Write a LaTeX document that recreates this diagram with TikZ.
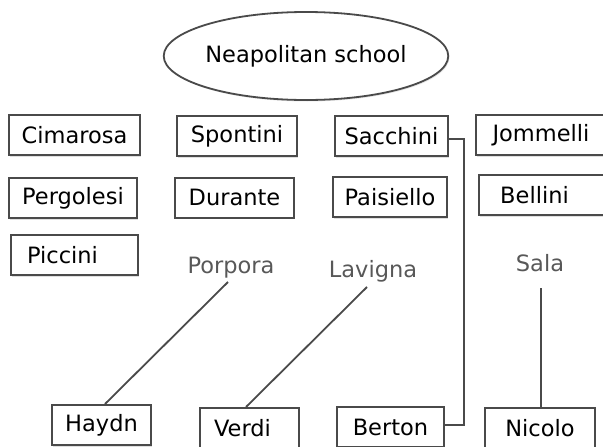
\documentclass[tikz,border=0pt]{standalone}
\usepackage{fontspec}
\setmainfont{DejaVu Sans}
\usetikzlibrary{shapes.geometric,shadows,calc}
\definecolor{boxline}{HTML}{4A4A4A}
\definecolor{graytext}{HTML}{585858}
\begin{document}
\begin{tikzpicture}[x=1pt,y=-1pt,
  every node/.style={font=\fontsize{22.5}{27}\selectfont},
  namebox/.style={draw=boxline,line width=2pt,fill=white,rectangle,inner sep=0pt,
    minimum height=40pt,drop shadow={shadow xshift=1.2pt,shadow yshift=-1.5pt,fill=black!25}},
  teacher/.style={text=graytext,inner sep=0pt,anchor=base},
  link/.style={draw=boxline,line width=1.8pt}]
\useasboundingbox (0,0) rectangle (603,447);
% title
\node[ellipse,draw=boxline,line width=1.8pt,fill=white,minimum width=252pt,minimum height=88pt,inner sep=0pt,
  drop shadow={shadow xshift=1.2pt,shadow yshift=-1.5pt,fill=black!20}] (school) at (306,56) {Neapolitan school};
% row 1
\node[namebox,minimum width=131pt] (Cimarosa) at (74.5,135) {Cimarosa};
\node[namebox,minimum width=120pt] (Spontini) at (237,136) {Spontini};
\node[namebox,minimum width=113pt] (Sacchini) at (391.5,136) {Sacchini};
\node[namebox,minimum width=130pt] (Jommelli) at (541,135) {Jommelli};
% row 2
\node[namebox,minimum width=128pt] (Pergolesi) at (73,198) {Pergolesi};
\node[namebox,minimum width=119pt] (Durante) at (234.5,197.5) {Durante};
\node[namebox,minimum width=114pt] (Paisiello) at (390,197) {Paisiello};
\node[namebox,minimum width=127pt] (Bellini) at (542.5,195) {Bellini\kern16pt};
% row 3
\node[namebox,minimum width=127pt] (Piccini) at (74.5,255) {Piccini\kern24pt};
% teachers
\node[teacher] (Porpora) at (231,273) {Porpora};
\node[teacher] (Lavigna) at (373,277) {Lavigna};
\node[teacher] (Sala) at (540,271) {Sala};
% bottom row
\node[namebox,minimum width=99pt] (Haydn) at (101.5,425) {Haydn};
\node[namebox,minimum width=99pt] (Verdi) at (249.5,428) {Verdi\kern14pt};
\node[namebox,minimum width=107pt] (Berton) at (390.5,427) {Berton};
\node[namebox,minimum width=110pt] (Nicolo) at (540,428) {Nicolo};
% connectors
\draw[link] ($(Porpora.base)+(-3,9)$) -- ($(Haydn.north)+(3.5,0)$);
\draw[link] ($(Lavigna.base)+(-6,10)$) -- ($(Verdi.north)+(-3.5,0)$);
\draw[link] ($(Sala.base)+(1,17)$) -- ($(Nicolo.north)+(1,0)$);
\draw[link] ($(Sacchini.east)+(0,3)$) -- ($(Sacchini.east)+(15,3)$) |- ($(Berton.east)+(0,-2)$);
\end{tikzpicture}
\end{document}
